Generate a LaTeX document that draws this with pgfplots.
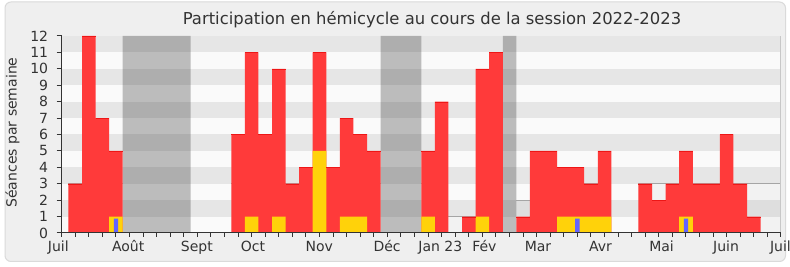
\documentclass[border=0pt]{standalone}
\usepackage{fontspec}
\setmainfont{DejaVu Sans}
\usepackage{pgfplots}
\usepackage{pgfplotstable}
\pgfplotsset{compat=1.18}
\definecolor{panelbg}{RGB}{239,239,239}
\definecolor{panelborder}{RGB}{218,218,218}
\definecolor{stripeW}{RGB}{250,250,250}
\definecolor{stripeG}{RGB}{230,230,230}
\definecolor{vacgrey}{RGB}{45,45,45}
\definecolor{barred}{RGB}{255,58,58}
\definecolor{bartop}{RGB}{238,22,22}
\definecolor{baryellow}{RGB}{255,210,10}
\definecolor{barblue}{RGB}{100,100,255}
\definecolor{medline}{RGB}{165,165,165}
\definecolor{axisdark}{RGB}{51,51,51}
\definecolor{rborder}{RGB}{200,200,200}

% weekly sittings (red)
\pgfplotstableread{
week val
1 3
2 12
3 7
4 5
13 6
14 11
15 6
16 10
17 3
18 4
19 11
20 4
21 7
22 6
23 5
27 5
28 8
30 1
31 10
32 11
34 1
35 5
36 5
37 4
38 4
39 3
40 5
43 3
44 2
45 3
46 5
47 3
48 3
49 6
50 3
51 1
}\seances

% second series (yellow)
\pgfplotstableread{
week val
4 1
14 1
16 1
19 5
21 1
22 1
27 1
31 1
37 1
38 1
39 1
40 1
46 1
}\jaune

% third series (blue)
\pgfplotstableread{
week val
4 0.87
38 0.87
46 0.87
}\bleu

% median step (start of week interval, value)
\pgfplotstableread{
x y
0.5 3
4.5 0
12.5 3
23.5 0
26.5 3
28.5 1
30.5 3
32.5 0
33.5 2
34.5 3
40.5 0
42.5 3
53 3
}\mediane

\begin{document}
\begin{tikzpicture}
\fill[white] (0pt,0pt) rectangle (790pt,267pt);
\useasboundingbox (0pt,0pt) rectangle (790pt,267pt);
\draw[fill=panelbg, draw=panelborder, line width=1pt, rounded corners=6pt] (5pt,5.5pt) rectangle (785.5pt,265pt);
\begin{axis}[
  at={(61.67pt,34pt)}, anchor=south west, scale only axis,
  width=719.3pt, height=197pt,
  xmin=0, xmax=53, ymin=0, ymax=12,
  axis lines*=left,
  axis on top,
  axis line style={draw=axisdark, line width=1pt},
  axis background/.style={fill=stripeW},
  tick align=outside,
  xtick={0,4.9,9.96,14.1,18.98,23.98,27.9,31.15,35.1,39.7,44.2,48.95,52.96},
  xticklabels={Juil\hspace*{6.7pt},Août,Sept,Oct,Nov,Déc,Jan 23,Fév,Mar,Avr,Mai,Juin,Juil},
  major x tick style={draw=none},
  minor xtick={0,1,...,53},
  minor tick length=4pt,
  minor x tick style={draw=axisdark, line width=1pt},
  ytick={0,1,...,12},
  major tick length=5pt,
  major y tick style={draw=axisdark, line width=1pt},
  tick label style={font=\fontsize{14}{16}\selectfont, text=axisdark},
  /pgf/number format/assume math mode=true,
  xticklabel style={anchor=base, yshift=-14pt},
  yticklabel style={anchor=east, xshift=-5pt},
  ylabel={Séances par semaine},
  every axis y label/.style={at={(axis description cs:-0.0684,0.51)}, rotate=90, anchor=center, font=\fontsize{14}{16}\selectfont, text=axisdark},
]
% background stripes
\fill[stripeG] (axis cs:0,1) rectangle (axis cs:53,2);
\fill[stripeG] (axis cs:0,3) rectangle (axis cs:53,4);
\fill[stripeG] (axis cs:0,5) rectangle (axis cs:53,6);
\fill[stripeG] (axis cs:0,7) rectangle (axis cs:53,8);
\fill[stripeG] (axis cs:0,9) rectangle (axis cs:53,10);
\fill[stripeG] (axis cs:0,11) rectangle (axis cs:53,12);
% parliamentary recess
\addplot[const plot, draw=none, fill=vacgrey, fill opacity=0.3] coordinates {(4.5,12) (9.5,12)} \closedcycle;
\addplot[const plot, draw=none, fill=vacgrey, fill opacity=0.3] coordinates {(23.5,12) (26.5,12)} \closedcycle;
\addplot[const plot, draw=none, fill=vacgrey, fill opacity=0.3] coordinates {(32.5,12) (33.5,12)} \closedcycle;
% median area
\addplot[const plot, draw=none, fill=black, fill opacity=0.03] table[x=x,y=y] {\mediane} \closedcycle;
\addplot[jump mark left, draw=medline, line width=1pt] table[x=x,y=y] {\mediane};
% bars
\addplot[ybar, bar width=1, bar shift=0pt, draw=none, fill=barred] table[x=week,y=val] {\seances};
\addplot[only marks, mark=-, mark size=6.78pt, mark options={draw=bartop, line width=1pt, yshift=-0.5pt}] table[x=week,y=val] {\seances};
\addplot[ybar, bar width=1, bar shift=0pt, draw=none, fill=baryellow] table[x=week,y=val] {\jaune};
\addplot[ybar, bar width=0.32, bar shift=0pt, draw=none, fill=barblue] table[x=week,y=val] {\bleu};
\draw[rborder, line width=1pt] (rel axis cs:1,0) -- (rel axis cs:1,1);
\end{axis}
\begin{axis}[
  at={(61.67pt,34pt)}, anchor=south west, scale only axis,
  width=719.3pt, height=197pt,
  xmin=0, xmax=53, ymin=0, ymax=12,
  axis x line*=top, hide y axis,
  x axis line style={draw=none},
  xtick=\empty,
  minor xtick={0,1,...,53},
  minor tick length=1.5pt,
  tick align=outside,
  minor x tick style={draw=axisdark, line width=1pt},
]
\end{axis}
\node[anchor=base, font=\fontsize{16.4}{18}\selectfont, text=axisdark] at (432pt,242.7pt) {Participation en hémicycle au cours de la session 2022-2023};
\end{tikzpicture}
\end{document}
